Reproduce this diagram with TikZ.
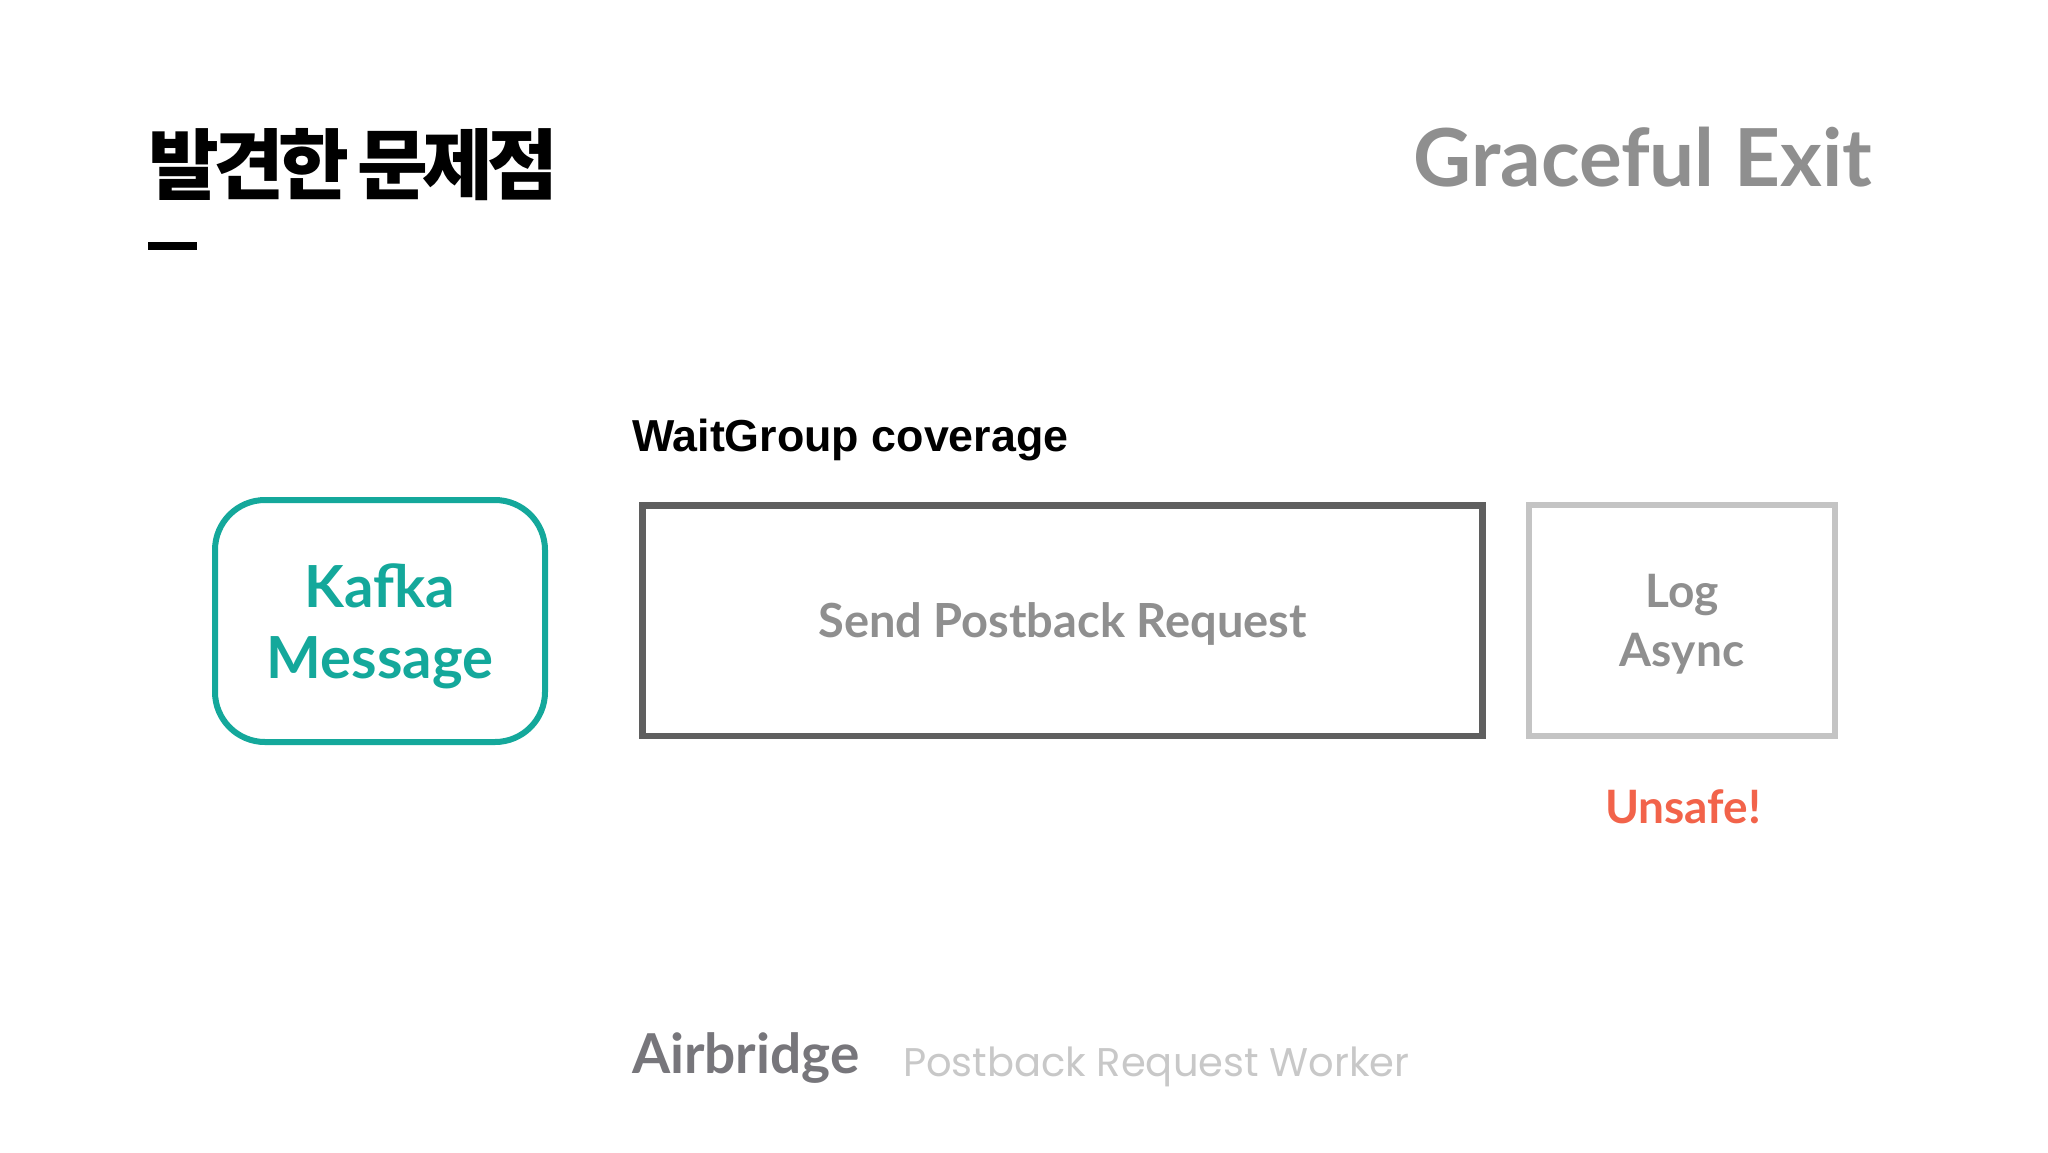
\documentclass[tikz,border=0pt]{standalone}
\usepackage{fontspec}
\setmainfont{Lato}
\newfontfamily\kr{Noto Sans CJK KR}
\newfontfamily\arialf{Liberation Sans}
\newfontfamily\latf{Lato}
\newfontfamily\popf{Poppins}
\definecolor{tealc}{HTML}{14A89B}
\definecolor{darkbox}{HTML}{5F5F5F}
\definecolor{lightbox}{HTML}{C4C4C4}
\definecolor{midgray}{HTML}{8F8F8F}
\definecolor{unsafered}{HTML}{F2634A}
\definecolor{brandgray}{HTML}{77767B}
\definecolor{palegray}{HTML}{C8C8C8}
\tikzset{
  txt/.style={inner sep=0pt, outer sep=0pt},
  stagebox/.style={draw, rectangle, inner sep=0pt},
}
\begin{document}
\begin{tikzpicture}[x=1pt,y=-1pt]
\useasboundingbox[fill=white] (0,0) rectangle (2048,1152);

% title
\node[txt, anchor=base west, font=\kr\bfseries\fontsize{77}{80}\selectfont] (title) at (148,193)
  {발\kern-5.5pt 견\kern-5.5pt 한\kern-10pt\ 문\kern-5.5pt 제\kern-5.5pt 점};
\fill[black] (148,242) rectangle (197,250);

\node[txt, anchor=base east, text=midgray, font=\latf\bfseries\fontsize{80}{90}\selectfont] (graceful) at (1872,186) {Graceful Exit};

\node[txt, anchor=base west, font=\arialf\bfseries\fontsize{44.8}{50}\selectfont] (wg) at (632,451) {WaitGroup coverage};

% boxes
\node[stagebox, draw=tealc, line width=6pt, rounded corners=50pt, minimum width=330pt, minimum height=242pt] (kafka) at (380,621) {};
\node[txt, align=center, text=tealc, font=\latf\bfseries\fontsize{58}{71}\selectfont] (kafkatext) at ([yshift=-5pt]kafka.center) {Kafka\\Message};

\node[stagebox, draw=darkbox, line width=6.5pt, minimum width=840pt, minimum height=230.5pt] (send) at (1062.5,620.75) {};
\node[txt, text=midgray, font=\latf\bfseries\fontsize{47}{56}\selectfont] (sendtext) at ([yshift=-3pt]send.center) {Send Postback Request};

\node[stagebox, draw=lightbox, line width=6pt, minimum width=306pt, minimum height=231pt] (log) at (1682,620.5) {};
\node[txt, align=center, text=midgray, font=\latf\bfseries\fontsize{46}{59}\selectfont] (logtext) at ([yshift=-4pt]log.center) {Log\\Async};

\node[txt, anchor=base, text=unsafered, font=\latf\bfseries\fontsize{46}{50}\selectfont] (unsafe) at (1683,823) {Unsafe!};

% footer
\node[txt, anchor=base west, text=brandgray, font=\latf\bfseries\fontsize{55}{60}\selectfont] (brand) at (632,1073) {Airbridge};
\node[txt, anchor=base west, text=palegray, font=\popf\fontsize{40}{46}\selectfont] (worker) at (903,1076) {Postback Request Worker};
\end{tikzpicture}
\end{document}
